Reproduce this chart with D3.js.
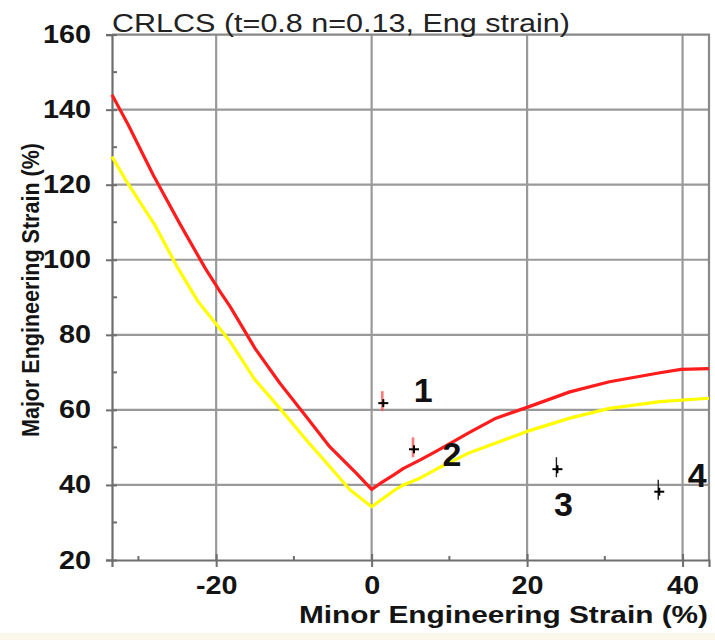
<!DOCTYPE html>
<html>
<head>
<meta charset="utf-8">
<script src="https://cdn.jsdelivr.net/npm/d3@7"></script>
<style>
  html, body { margin: 0; padding: 0; background: #fff; }
  svg { display: block; }
  text { font-family: "Liberation Sans", Arial, sans-serif; }
</style>
</head>
<body>
<svg id="chart" width="715" height="640"></svg>
<script>
// Forming limit curve (red) — minor / major engineering strain, %
const flcMinor = [-33.4, -31.3, -28.1, -24.7, -21.4, -19.5, -18.2, -15.0, -11.8, -8.4, -5.4, -1.95, 0,
                  1.1, 2.8, 4.1, 6.2, 8.4, 12.6, 16.0, 19.9, 25.5, 30.6, 37.1, 39.8, 43.4];
const flcMajor = [144.0, 135.9, 122.6, 109.7, 97.7, 91.5, 87.5, 76.4, 67.1, 58.2, 50.2, 43.1, 38.8,
                  40.4, 42.6, 44.4, 46.6, 49.1, 54.0, 57.8, 60.6, 64.8, 67.5, 69.9, 70.8, 71.0];

// Safety margin curve (yellow)
const safeMinor = [-33.4, -31.5, -27.9, -24.9, -22.3, -18.2, -15.0, -11.8, -8.4, -5.4, -2.8, 0,
                   2.8, 4.1, 6.2, 8.4, 12.6, 19.9, 25.5, 30.6, 37.1, 43.4];
const safeMajor = [127.5, 120.8, 109.3, 97.7, 88.8, 78.2, 68.0, 60.4, 52.0, 44.9, 38.7, 34.2,
                   38.4, 40.0, 41.8, 44.3, 48.6, 54.2, 57.8, 60.4, 62.2, 63.1];

// Measured strain points
const pointMinor  = [1.5, 5.45, 23.9, 37.0];
const pointMajor  = [61.8, 49.5, 44.2, 38.2];
const pointLabels = ["1", "2", "3", "4"];

// Axis ticks
const xTicks = [-20, 0, 20, 40];
const xMinorTicks = [-30, -10, 10, 30];
const yTicks = [20, 40, 60, 80, 100, 120, 140, 160];
const yMinorTicks = [30, 50, 70, 90, 110, 130, 150];
const yGrid = [40, 60, 80, 100, 120, 140];

const titleText = "CRLCS (t=0.8 n=0.13, Eng strain)";
const xTitle = "Minor Engineering Strain (%)";
const yTitle = "Major Engineering Strain (%)";

const svg = d3.select("#chart");
const L = 112, R = 709, T = 34.6, B = 560;

const x = d3.scaleLinear().domain([-33.4, 43.4]).range([L, R]);
const y = d3.scaleLinear().domain([20, 160]).range([B, T]);

// faint strip along the bottom edge
svg.append("rect").attr("x", 0).attr("y", 633).attr("width", 715).attr("height", 7).attr("fill", "#fbf7ea");

// grid
const grid = svg.append("g").attr("stroke", "#999").attr("stroke-width", 2.2);
grid.selectAll("line.v").data(xTicks).join("line").attr("class", "v")
  .attr("x1", d => x(d)).attr("x2", d => x(d)).attr("y1", T).attr("y2", B);
grid.selectAll("line.h").data(yGrid).join("line").attr("class", "h")
  .attr("x1", L).attr("x2", R).attr("y1", d => y(d)).attr("y2", d => y(d));

// frame (top and right)
svg.append("path")
  .attr("d", `M${L},${T}H${R}V${B}`)
  .attr("fill", "none").attr("stroke", "#888").attr("stroke-width", 2.2);

// widen tick labels horizontally while keeping their anchor point
function stretch(sel, k, anchor) {
  sel.each(function () {
    const w = this.getComputedTextLength();
    const x0 = +this.getAttribute("x") || 0;
    const start = anchor === "end" ? x0 - w * k : x0 - w * k / 2;
    this.setAttribute("text-anchor", "start");
    this.setAttribute("x", start);
    this.setAttribute("textLength", w * k);
    this.setAttribute("lengthAdjust", "spacingAndGlyphs");
  });
}

// y axis
const yAxis = svg.append("g").attr("transform", `translate(${L},0)`)
  .call(d3.axisLeft(y).tickValues(yTicks).tickSize(6).tickPadding(15).tickFormat(d => String(d)));
yAxis.select(".domain").attr("stroke", "#6e6e6e").attr("stroke-width", 2.2);
yAxis.selectAll(".tick line").attr("stroke", "#6e6e6e").attr("stroke-width", 2).attr("x2", -6).attr("x1", 5);
yAxis.selectAll(".tick text")
  .attr("font-size", 25).attr("font-weight", "bold").attr("fill", "#141414")
  .attr("font-family", "Liberation Sans, Arial, sans-serif")
  .call(stretch, 1.15, "end");
svg.append("g").attr("stroke", "#6e6e6e").attr("stroke-width", 2)
  .selectAll("line").data(yMinorTicks).join("line")
  .attr("x1", L).attr("x2", L + 5).attr("y1", d => y(d)).attr("y2", d => y(d));

// x axis
const xAxis = svg.append("g").attr("transform", `translate(0,${B})`)
  .call(d3.axisBottom(x).tickValues(xTicks).tickSize(7).tickPadding(9).tickFormat(d => String(d)));
xAxis.select(".domain").attr("stroke", "#6e6e6e").attr("stroke-width", 2.2);
xAxis.selectAll(".tick line").attr("stroke", "#6e6e6e").attr("stroke-width", 2).attr("y1", -6).attr("y2", 7);
xAxis.selectAll(".tick text")
  .attr("font-size", 25).attr("font-weight", "bold").attr("fill", "#141414")
  .attr("font-family", "Liberation Sans, Arial, sans-serif")
  .call(stretch, 1.15, "middle");
svg.append("g").attr("stroke", "#6e6e6e").attr("stroke-width", 2)
  .selectAll("line").data(xMinorTicks).join("line")
  .attr("x1", d => x(d)).attr("x2", d => x(d)).attr("y1", B).attr("y2", B - 4);

// curves
const line = d3.line().x(d => x(d[0])).y(d => y(d[1]));
const safePts = safeMinor.map((v, i) => [v, safeMajor[i]]);
const flcPts = flcMinor.map((v, i) => [v, flcMajor[i]]);
svg.append("path").datum(safePts).attr("d", line)
  .attr("fill", "none").attr("stroke", "#ffff00").attr("stroke-width", 3.2).attr("stroke-linejoin", "round");
svg.append("path").datum(flcPts).attr("d", line)
  .attr("fill", "none").attr("stroke", "#ff1c1c").attr("stroke-width", 3.2).attr("stroke-linejoin", "round");

// measured points: vertical scatter bar plus a small black cross
const pts = pointMinor.map((v, i) => ({ mx: v, my: pointMajor[i], label: pointLabels[i], i }));
const marks = svg.append("g");
marks.selectAll("line.bar").data(pts).join("line").attr("class", "bar")
  .attr("x1", d => x(d.mx) - 1).attr("x2", d => x(d.mx) - 1)
  .attr("y1", d => y(d.my) - 12).attr("y2", d => y(d.my) + 8)
  .attr("stroke", d => d.i < 2 ? "#ff5a5a" : "#222")
  .attr("stroke-width", d => d.i < 2 ? 2.6 : 1.4)
  .attr("opacity", d => d.i < 2 ? 0.8 : 1);
marks.selectAll("line.h").data(pts).join("line").attr("class", "h")
  .attr("x1", d => x(d.mx) - 5).attr("x2", d => x(d.mx) + 5)
  .attr("y1", d => y(d.my)).attr("y2", d => y(d.my))
  .attr("stroke", "#000").attr("stroke-width", 2);
marks.selectAll("line.v").data(pts).join("line").attr("class", "v")
  .attr("x1", d => x(d.mx)).attr("x2", d => x(d.mx))
  .attr("y1", d => y(d.my) - 4).attr("y2", d => y(d.my) + 4)
  .attr("stroke", "#000").attr("stroke-width", 2);

// point numbers
const labelOffsets = [[40, -13], [38, 5], [6, 35], [38, -17]];
svg.append("g").selectAll("text").data(pts).join("text")
  .attr("x", d => x(d.mx) + labelOffsets[d.i][0])
  .attr("y", d => y(d.my) + labelOffsets[d.i][1])
  .attr("text-anchor", "middle").attr("dominant-baseline", "central")
  .attr("font-size", 34).attr("font-weight", "bold").attr("fill", "#111")
  .text(d => d.label);

// title
svg.append("text").attr("x", L).attr("y", 32)
  .attr("font-size", 26).attr("fill", "#222")
  .attr("textLength", 458).attr("lengthAdjust", "spacingAndGlyphs")
  .text(titleText);

// axis titles
svg.append("text").attr("x", 708 - 409).attr("y", 623)
  .attr("font-size", 24).attr("font-weight", "bold").attr("fill", "#141414")
  .attr("textLength", 409).attr("lengthAdjust", "spacingAndGlyphs")
  .text(xTitle);
svg.append("text").attr("transform", "translate(39,437) rotate(-90)")
  .attr("font-size", 24).attr("font-weight", "bold").attr("fill", "#141414")
  .attr("textLength", 294).attr("lengthAdjust", "spacingAndGlyphs")
  .text(yTitle);
</script>
</body>
</html>
